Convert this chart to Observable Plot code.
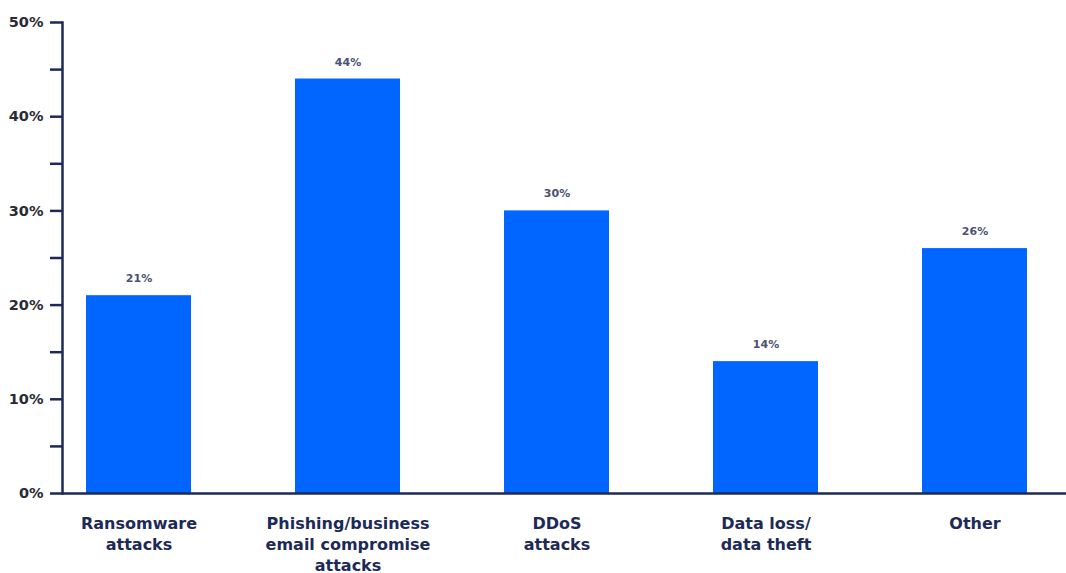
<!DOCTYPE html>
<html>
<head>
<meta charset="utf-8">
<script src="https://cdn.jsdelivr.net/npm/d3@7"></script>
<script src="https://cdn.jsdelivr.net/npm/@observablehq/plot@0.6"></script>
<style>
  html, body { margin: 0; padding: 0; background: #fff; }
  #chart svg { display: block; }
</style>
</head>
<body>
<div id="chart"></div>
<script>
const categories = ["Ransomware attacks", "Phishing/business email compromise attacks", "DDoS attacks", "Data loss/ data theft", "Other"];
const labels = ["Ransomware\nattacks", "Phishing/business\nemail compromise\nattacks", "DDoS\nattacks", "Data loss/\ndata theft", "Other"];
const values = [21, 44, 30, 14, 26];
const yTicks = [0, 5, 10, 15, 20, 25, 30, 35, 40, 45, 50];

const data = categories.map((c, i) => ({cat: c, label: labels[i], value: values[i]}));
const navy = "#1d2a57";
const font = "DejaVu Sans, sans-serif";

const chart = Plot.plot({
  width: 1066,
  height: 573,
  marginLeft: 62,
  marginRight: 0,
  marginTop: 22,
  marginBottom: 80,
  style: {fontFamily: font, background: "#fff"},
  x: {domain: categories, paddingInner: 0.5, paddingOuter: 0.143, align: 0.38, axis: null},
  y: {domain: [0, 50], range: [493, 22]},
  marks: [
    Plot.barY(data, {x: "cat", y: "value", fill: "#0066ff"}),
    Plot.text(data, {x: "cat", y: "value", text: d => d.value + "%", dy: -17, fontSize: 11, fontWeight: 600, fill: "#4a5272"}),
    Plot.text(data, {x: "cat", y: 0, text: "label", dy: 21, lineAnchor: "top", lineHeight: 1.3, fontSize: 16, fontWeight: "bold", fill: navy}),
    Plot.axisY({ticks: yTicks, tickSize: 12, tickPadding: 7, strokeWidth: 2.5, stroke: navy, tickFormat: d => d % 10 === 0 ? d + "%" : "", fontSize: 14.5, fontWeight: "bold", color: "#2b2b36", label: null}),
    Plot.frame({anchor: "left", stroke: navy, strokeWidth: 2.5}),
    Plot.ruleY([0], {stroke: navy, strokeWidth: 2.5})
  ]
});
document.getElementById("chart").appendChild(chart);
</script>
</body>
</html>
